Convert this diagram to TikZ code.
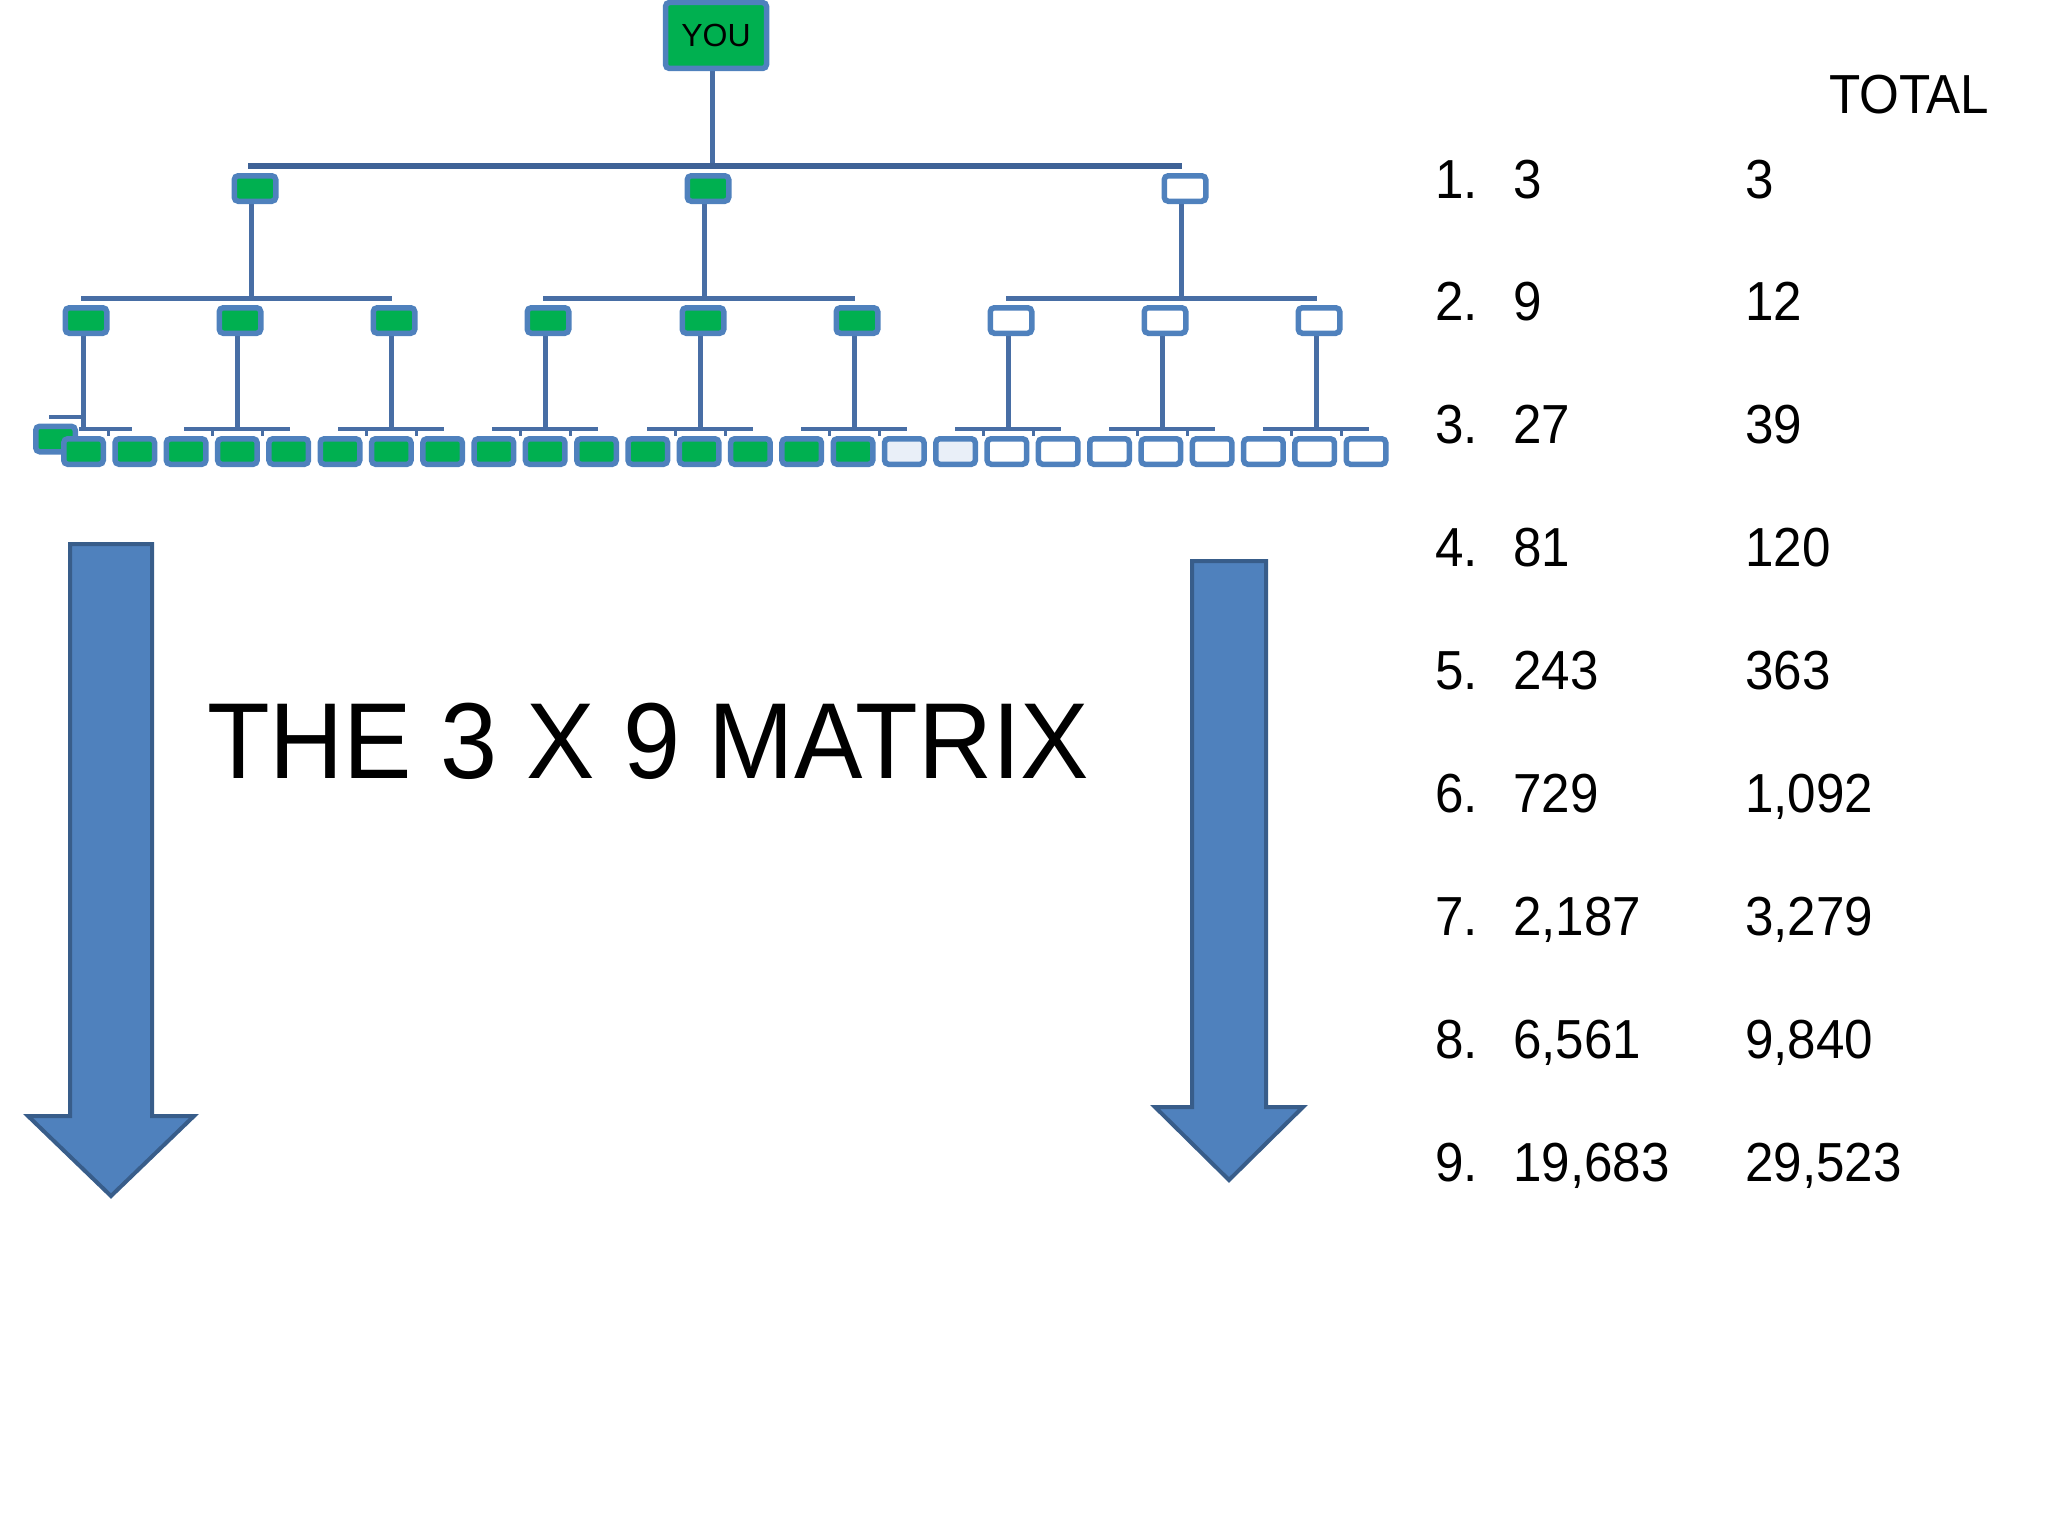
\documentclass[tikz,border=0pt]{standalone}
\usepackage{fontspec}
\setmainfont{Liberation Sans}
\newfontfamily\tabfont[FakeStretch=0.93]{Liberation Sans}
\newfontfamily\titlefont[FakeStretch=0.95]{Liberation Sans}
\definecolor{boxblue}{RGB}{79,129,189}
\definecolor{boxgreen}{RGB}{0,176,80}
\definecolor{linecol}{RGB}{72,110,165}
\definecolor{barcol}{RGB}{62,98,150}
\definecolor{arrowedge}{RGB}{56,93,138}
\definecolor{paleblue}{RGB}{233,239,248}
\pgfdeclarelayer{bg}
\pgfsetlayers{bg,main}
\newcommand\mxrow[4]{%
  \node[tabtext] (n#1) at (1435,#4) {#1.};
  \node[tabtext] (v#1) at (1513,#4) {#2};
  \node[tabtext] (t#1) at (1745,#4) {#3};}
\begin{document}
\begin{tikzpicture}[x=1pt,y=-1pt,
  orgbox/.style={draw=boxblue,line width=5.5pt,rounded corners=4pt,inner sep=0pt,minimum width=41.5pt,minimum height=25.5pt},
  filled/.style={orgbox,fill=boxgreen},
  emptybox/.style={orgbox,fill=white},
  palebox/.style={orgbox,fill=paleblue},
  leafbox/.style={minimum width=39.5pt},
  conn/.style={draw=linecol,line width=5pt},
  topbar/.style={draw=barcol,line width=6pt},
  bigarrow/.style={fill=boxblue,draw=arrowedge,line width=4pt,line join=miter},
  tabtext/.style={anchor=base west,inner sep=0pt,font=\tabfont\fontsize{55}{60}\selectfont}
]
\useasboundingbox (0,0) rectangle (2048,1536);

% ---------- org chart boxes ----------
\node[filled,minimum width=101pt,minimum height=66pt,font=\fontsize{32}{36}\selectfont] (you) at (716,35.5) {YOU};

\foreach \i/\x/\s in {1/255/filled,2/708/filled,3/1185/emptybox}
  \node[\s] (a\i) at (\x,188.5) {};

\foreach \i/\x/\s in {1/86/filled,2/240/filled,3/394/filled,4/548/filled,5/703/filled,6/857/filled,7/1011/emptybox,8/1165/emptybox,9/1319/emptybox}
  \node[\s] (b\i) at (\x,320.5) {};

\node[filled,leafbox] (codd) at (55.5,439) {};
\foreach \k in {0,...,15}
  \node[filled,leafbox] (c\k) at ({83.5+51.3*\k},451.5) {};
\foreach \k in {16,17}
  \node[palebox,leafbox] (c\k) at ({83.5+51.3*\k},451.5) {};
\foreach \k in {18,...,25}
  \node[emptybox,leafbox] (c\k) at ({83.5+51.3*\k},451.5) {};

% ---------- connectors (behind the boxes) ----------
\begin{pgfonlayer}{bg}
\draw[conn] ([xshift=-4pt]you.south) -- ([xshift=-4pt]you.south |- 0,166);
\draw[topbar] ([xshift=-7pt]a1.north |- 0,166) -- ([xshift=-3pt]a3.north |- 0,166);

\foreach \i in {1,2,3}
  \draw[conn] ([xshift=-4pt]a\i.south) -- ([xshift=-4pt]a\i.south |- 0,298);
\draw[conn] ([xshift=-5pt]b1.north |- 0,298) -- ([xshift=-2pt]b3.north |- 0,298);
\draw[conn] ([xshift=-5pt]b4.north |- 0,298) -- ([xshift=-2pt]b6.north |- 0,298);
\draw[conn] ([xshift=-5pt]b7.north |- 0,298) -- ([xshift=-2pt]b9.north |- 0,298);

\foreach \j in {1,...,9}
  \draw[conn] ([xshift=-3pt]b\j.south) -- ([xshift=-3pt]b\j.south |- 0,429);
\foreach \j in {2,...,9}{
  \draw[conn,line width=4pt] ([xshift=-56pt]b\j.south |- 0,429) -- ([xshift=50pt]b\j.south |- 0,429);
  \draw[conn,line width=3pt] ([xshift=-28pt]b\j.south |- 0,429) -- ++(0,7);
  \draw[conn,line width=3pt] ([xshift=22pt]b\j.south |- 0,429) -- ++(0,7);
}
\draw[conn,line width=4pt] ([xshift=-7pt]b1.south |- 0,429) -- ([xshift=46pt]b1.south |- 0,429);
\draw[conn,line width=3pt] ([xshift=22pt]b1.south |- 0,429) -- ++(0,7);
\draw[conn,line width=4pt] ([xshift=-3pt]b1.south |- 0,417) -- ([xshift=-7pt]codd.north |- 0,417);
\end{pgfonlayer}

% ---------- big arrows ----------
\draw[bigarrow] (70,544) -- (152,544) -- (152,1116) -- (194,1116) -- (111,1196) -- (28,1116) -- (70,1116) -- cycle;
\draw[bigarrow] (1192,561) -- (1266,561) -- (1266,1107) -- (1303,1107) -- (1229,1180) -- (1155,1107) -- (1192,1107) -- cycle;

% ---------- title ----------
\node[anchor=base west,inner sep=0pt,font=\titlefont\fontsize{108}{120}\selectfont] (title) at (207,778) {THE 3 X 9 MATRIX};

% ---------- table ----------
\node[tabtext] (total) at (1829,114) {TOTAL};
\mxrow{1}{3}{3}{198}
\mxrow{2}{9}{12}{320.9}
\mxrow{3}{27}{39}{443.8}
\mxrow{4}{81}{120}{566.7}
\mxrow{5}{243}{363}{689.6}
\mxrow{6}{729}{1,092}{812.5}
\mxrow{7}{2,187}{3,279}{935.4}
\mxrow{8}{6,561}{9,840}{1058.3}
\mxrow{9}{19,683}{29,523}{1181.2}
\end{tikzpicture}
\end{document}
